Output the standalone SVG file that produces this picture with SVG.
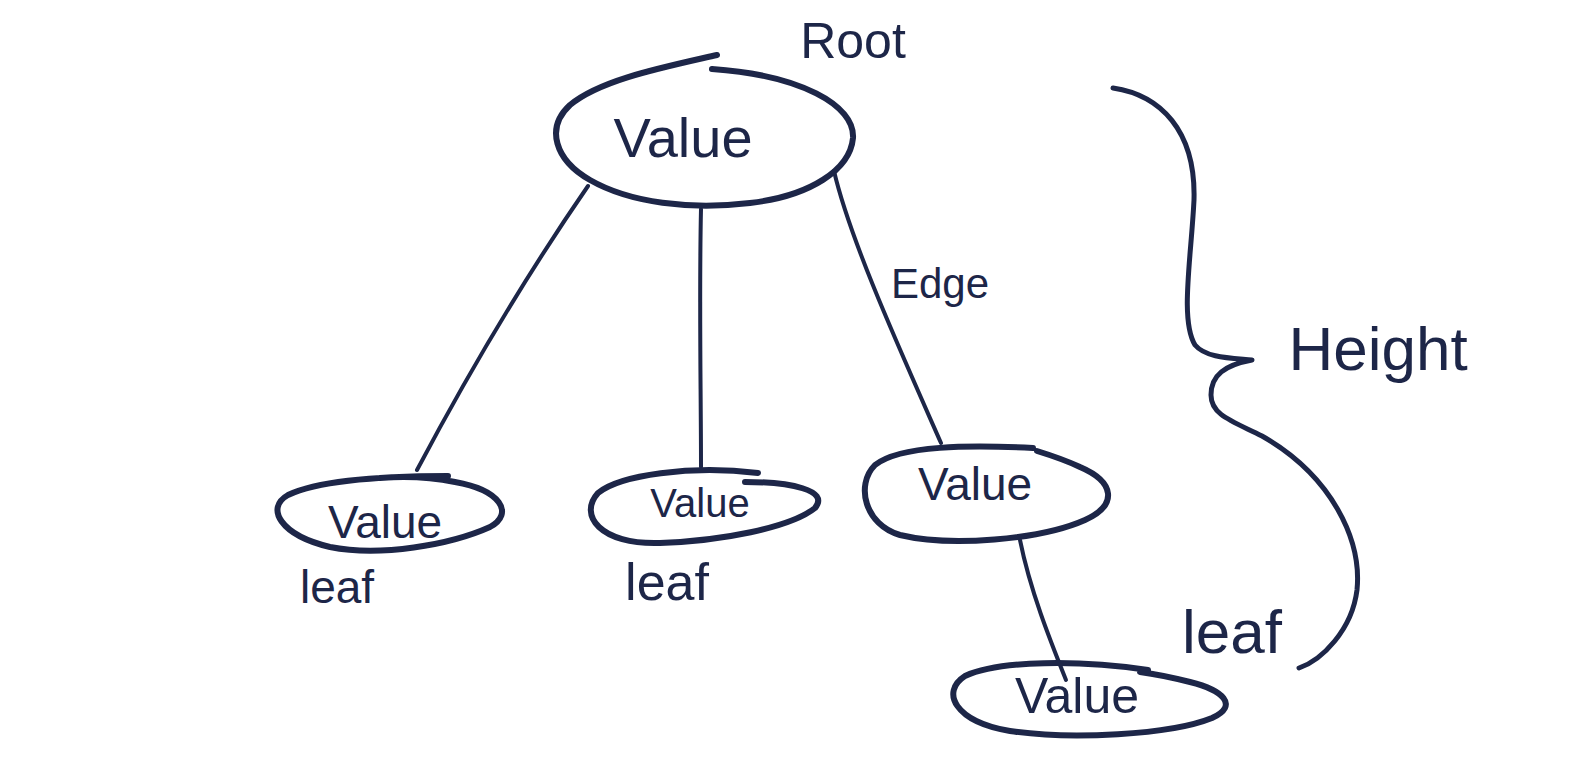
<svg xmlns="http://www.w3.org/2000/svg" width="1577" height="776" viewBox="0 0 1577 776">
<style>
.ink{fill:none;stroke:#1d2648;stroke-linecap:round;stroke-linejoin:round}
.node{stroke-width:6}
.edge{stroke-width:4}
.brace{stroke-width:5}
.lbl{fill:#1d2648;font-family:"Liberation Sans",Arial,sans-serif;text-anchor:middle}
</style>
<rect width="1577" height="776" fill="#ffffff"/>
<g id="connectors">
<path class="ink edge" d="M588,186 C530,270 470,370 417,470"/>
<path class="ink edge" d="M701,209 C699,300 701,390 701,467"/>
<path class="ink edge" d="M834,171 C850,240 900,350 941,443"/>
<path class="ink edge" d="M1020,540 C1030,590 1050,640 1066,680"/>
</g>
<g id="root">
<path class="ink node" d="M717,55 C660,68 600,80 570,105 C545,128 555,160 590,180 C630,203 690,210 750,203 C810,196 850,170 853,138 C855,105 800,75 712,69"/>
<text class="lbl" x="683" y="157" font-size="56">Value</text>
<text class="lbl" x="853" y="58" font-size="50">Root</text>
</g>
<g id="leaf1">
<path class="ink node" d="M448,476 C390,476 320,480 288,495 C265,508 280,535 330,547 C380,557 450,545 490,527 C515,513 500,490 455,482 C430,477 405,476 380,478"/>
<text class="lbl" x="385" y="538" font-size="46">Value</text>
<text class="lbl" x="337" y="603" font-size="46">leaf</text>
</g>
<g id="leaf2">
<path class="ink node" d="M758,473 C690,465 620,475 598,493 C578,515 600,545 660,543 C720,541 790,528 815,508 C830,490 790,482 745,482"/>
<text class="lbl" x="700" y="517" font-size="40">Value</text>
<text class="lbl" x="667" y="600" font-size="52">leaf</text>
</g>
<g id="node3">
<path class="ink node" d="M1033,448 C970,445 900,445 875,465 C855,485 865,525 900,535 C950,547 1040,540 1085,520 C1118,505 1115,482 1080,467 C1065,460 1050,455 1037,451"/>
<text class="lbl" x="975" y="500" font-size="46">Value</text>
<text class="lbl" x="940" y="298" font-size="42">Edge</text>
</g>
<g id="leaf4">
<path class="ink node" d="M1148,670 C1080,660 1000,660 965,676 C940,692 955,722 1010,731 C1070,740 1170,735 1212,718 C1240,705 1222,690 1190,682 C1170,677 1155,674 1140,672"/>
<text class="lbl" x="1077" y="713" font-size="50">Value</text>
<text class="lbl" x="1232" y="653" font-size="62">leaf</text>
</g>
<g id="height">
<path class="ink brace" d="M1113,88 C1160,95 1196,130 1194,200 C1191,260 1180,320 1195,345 C1206,358 1230,358 1252,360 C1225,365 1211,375 1211,395 C1211,415 1232,421 1262,436 C1332,476 1362,540 1357,590 C1352,630 1322,660 1299,668"/>
<text class="lbl" x="1378" y="370" font-size="62">Height</text>
</g>
</svg>
